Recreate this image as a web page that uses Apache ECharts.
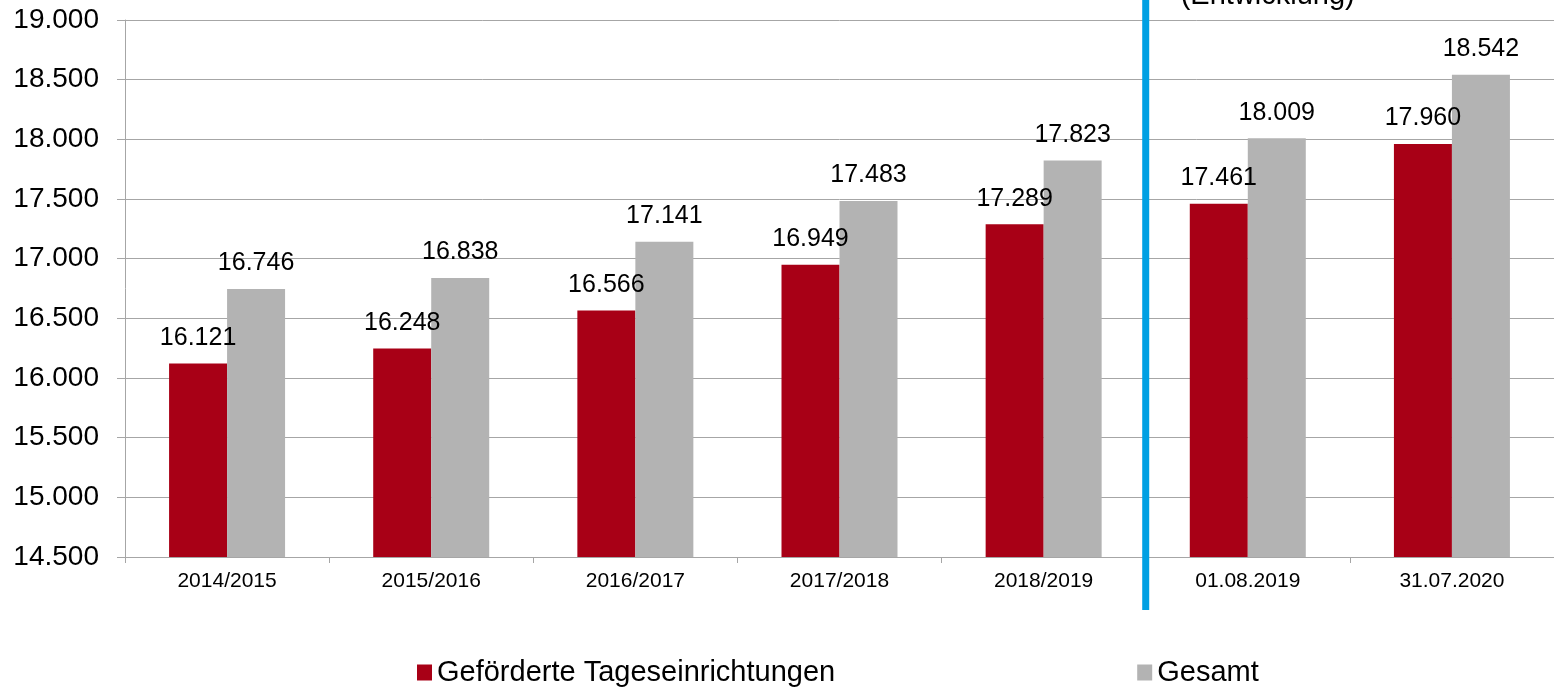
<!DOCTYPE html>
<html>
<head>
<meta charset="utf-8">
<script src="https://cdn.jsdelivr.net/npm/echarts@6/dist/echarts.min.js"></script>
<style>
html,body{margin:0;padding:0;background:#fff;}
#main{width:1554px;height:688px;}
</style>
</head>
<body>
<div id="main"></div>
<script>
var categories = ['2014/2015','2015/2016','2016/2017','2017/2018','2018/2019','01.08.2019','31.07.2020'];
var seriesNames = ['Geförderte Tageseinrichtungen','Gesamt'];
var gefoerdert = [16121, 16248, 16566, 16949, 17289, 17461, 17960];
var gesamt = [16746, 16838, 17141, 17483, 17823, 18009, 18542];
var annotationText = '(Entwicklung)';
var dividerAfterIndex = 4;

var FONT = '"Liberation Sans", Arial, sans-serif';
function fmt(v){ return String(v).replace(/\B(?=(\d{3})+(?!\d))/g, '.'); }

var chart = echarts.init(document.getElementById('main'));
var option = {
  backgroundColor: '#ffffff',
  animation: false,
  textStyle: { fontFamily: FONT },
  grid: { left: 125, right: 0, top: 20, bottom: 131, containLabel: false },
  legend: {
    data: seriesNames,
    left: 417,
    top: 658,
    padding: 0,
    itemGap: 302,
    itemWidth: 15,
    itemHeight: 16,
    icon: 'rect',
    textStyle: { fontSize: 29, color: '#000', fontFamily: FONT }
  },
  xAxis: {
    type: 'category',
    data: categories,
    axisLine: { lineStyle: { color: '#a6a6a6', width: 1 } },
    axisTick: { show: true, length: 6, lineStyle: { color: '#a6a6a6' } },
    axisLabel: { fontSize: 21, color: '#000', margin: 14, fontFamily: FONT }
  },
  yAxis: {
    type: 'value',
    min: 14500,
    max: 19000,
    interval: 500,
    axisLine: { show: true, lineStyle: { color: '#a6a6a6', width: 1 } },
    axisTick: { show: true, length: 8, lineStyle: { color: '#a6a6a6' } },
    axisLabel: { fontSize: 28, color: '#000', margin: 26, formatter: fmt, fontFamily: FONT },
    splitLine: { show: true, lineStyle: { color: '#a6a6a6', width: 1 } }
  },
  series: [
    {
      name: seriesNames[0],
      type: 'bar',
      data: gefoerdert,
      barWidth: 58,
      barGap: '0%',
      itemStyle: { color: '#A80016' },
      label: { show: true, position: 'top', distance: 13, fontSize: 25, color: '#000', formatter: function(p){ return fmt(p.value); }, fontFamily: FONT }
    },
    {
      name: seriesNames[1],
      type: 'bar',
      data: gesamt,
      barWidth: 58,
      barGap: '0%',
      itemStyle: { color: '#B3B3B3' },
      label: { show: true, position: 'top', distance: 13, fontSize: 25, color: '#000', formatter: function(p){ return fmt(p.value); }, fontFamily: FONT }
    }
  ]
};
chart.setOption(option);

var xa = chart.convertToPixel({xAxisIndex: 0}, dividerAfterIndex);
var xb = chart.convertToPixel({xAxisIndex: 0}, dividerAfterIndex + 1);
var xDiv = (xa + xb) / 2;
chart.setOption({
  graphic: [
    {
      type: 'line',
      shape: { x1: xDiv, y1: 0, x2: xDiv, y2: 610 },
      style: { stroke: '#00A0E3', lineWidth: 7 },
      z: 100
    },
    {
      type: 'text',
      left: xDiv + 35,
      top: -19,
      style: { text: annotationText, fontSize: 29, fill: '#000', fontFamily: FONT },
      z: 100
    }
  ]
});
</script>
</body>
</html>
